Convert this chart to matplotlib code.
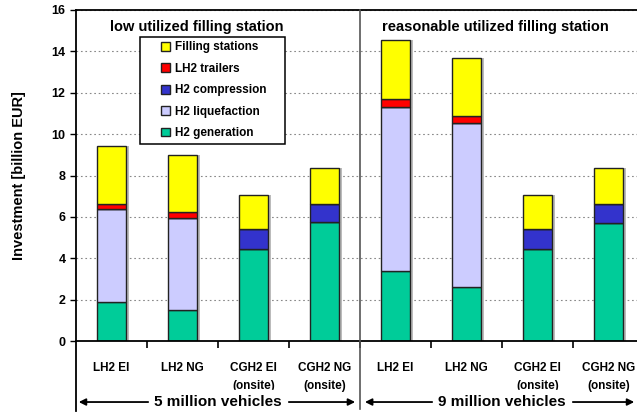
import numpy as np
import matplotlib
matplotlib.use("Agg")
import matplotlib.pyplot as plt
from matplotlib.patches import Rectangle

plt.rcParams['font.family'] = ['Liberation Sans', 'DejaVu Sans']

# categories (4 per scenario)
labels = ['LH2 El', 'LH2 NG', 'CGH2 El\n(onsite)', 'CGH2 NG\n(onsite)',
          'LH2 El', 'LH2 NG', 'CGH2 El\n(onsite)', 'CGH2 NG\n(onsite)']

# investment components [billion EUR]
generation = [1.9, 1.52, 4.45, 5.74, 3.37, 2.62, 4.43, 5.72]
liquefaction = [4.5, 4.43, 0, 0, 7.92, 7.92, 0, 0]
compression = [0, 0, 0.94, 0.86, 0, 0, 0.97, 0.88]
trailers = [0.2, 0.27, 0, 0, 0.42, 0.35, 0, 0]
filling = [2.85, 2.78, 1.69, 1.77, 2.86, 2.79, 1.68, 1.77]

series = [('H2 generation', generation, '#00CC99'),
          ('H2 liquefaction', liquefaction, '#CCCCFF'),
          ('H2 compression', compression, '#3333CC'),
          ('LH2 trailers', trailers, '#FF0000'),
          ('Filling stations', filling, '#FFFF00')]

fig = plt.figure(figsize=(6.37, 4.12), dpi=100)
ax = fig.add_axes([76/637, 71/412, 561/637, 331/412])

x = np.arange(len(labels))
bottom = np.zeros(len(labels))
handles = []
for name, vals, col in series:
    vals = np.array(vals)
    # light shadow behind each bar
    ax.bar(x + 0.04, vals, width=0.4, bottom=bottom, color='#bbbbbb',
           edgecolor='none', zorder=1.5)
    b = ax.bar(x, vals, width=0.4, bottom=bottom, color=col,
               edgecolor='#222222', linewidth=1, label=name, zorder=2)
    handles.append(b)
    bottom += vals

ax.set_xlim(-0.5, 7.4)
ax.set_ylim(0, 16)
ax.set_yticks(np.arange(0, 17, 2))
ax.tick_params(axis='y', labelsize=9, length=4, width=1)
for t in ax.get_yticklabels():
    t.set_fontweight('bold')

ax.set_xticks(x)
ax.set_xticklabels(labels, fontsize=8.5, fontweight='bold', linespacing=1.65)
ax.tick_params(axis='x', length=0, pad=15)
ax.set_xticks(np.arange(0.5, 7.5, 1), minor=True)
ax.tick_params(axis='x', which='minor', length=5, width=1.2, direction='out')

ax.grid(axis='y', color='#888888', linestyle=(0, (1.5, 2.5)), linewidth=0.8, zorder=0)
ax.set_axisbelow(True)

for s in ['left', 'top', 'bottom']:
    ax.spines[s].set_linewidth(1.3)
ax.spines['right'].set_visible(False)

ax.set_ylabel('Investment [billion EUR]', fontsize=10.5, fontweight='bold')
ax.yaxis.set_label_coords(-0.09, 0.5)

# left spine extension and scenario divider
ax.plot([0, 0], [0, -0.21], transform=ax.transAxes, color='black',
        linewidth=1.3, clip_on=False)
ax.plot([3.5, 3.5], [-3.3, 16], color='#555555', linewidth=1.2, clip_on=False, zorder=3)

ax.text(1.2, 15.2, 'low utilized filling station', ha='center', va='center',
        fontsize=10.5, fontweight='bold')
ax.text(5.4, 15.2, 'reasonable utilized filling station', ha='center', va='center',
        fontsize=10.5, fontweight='bold')

# arrows for vehicle fleets
ya = -2.95
arrow = dict(arrowstyle='-|>', color='black', lw=1.3)
ax.annotate('', xy=(-0.5, ya), xytext=(1.2, ya), arrowprops=arrow, annotation_clip=False)
ax.annotate('', xy=(3.47, ya), xytext=(1.8, ya), arrowprops=arrow, annotation_clip=False)
ax.text(1.5, ya, '5 million vehicles', ha='center', va='center', fontsize=11,
        fontweight='bold', backgroundcolor='white', zorder=4, clip_on=False)
ax.annotate('', xy=(3.53, ya), xytext=(5.2, ya), arrowprops=arrow, annotation_clip=False)
ax.annotate('', xy=(7.4, ya), xytext=(5.8, ya), arrowprops=arrow, annotation_clip=False)
ax.text(5.5, ya, '9 million vehicles', ha='center', va='center', fontsize=11,
        fontweight='bold', backgroundcolor='white', zorder=4, clip_on=False)

# legend box drawn separately for its wide side padding
ax.add_patch(Rectangle((0.114, 0.595), 0.2585, 0.323, transform=ax.transAxes,
                       facecolor='white', edgecolor='black', linewidth=1.1, zorder=4))
leg = ax.legend(handles[::-1], [s[0] for s in series][::-1], loc='upper left',
                bbox_to_anchor=(0.152, 0.905), prop={'weight': 'bold', 'size': 8.5},
                handlelength=0.75, handleheight=0.75, handletextpad=0.4,
                labelspacing=0.8, frameon=False, borderpad=0, borderaxespad=0)
leg.set_zorder(5)

fig.savefig('out.png', dpi=100)
